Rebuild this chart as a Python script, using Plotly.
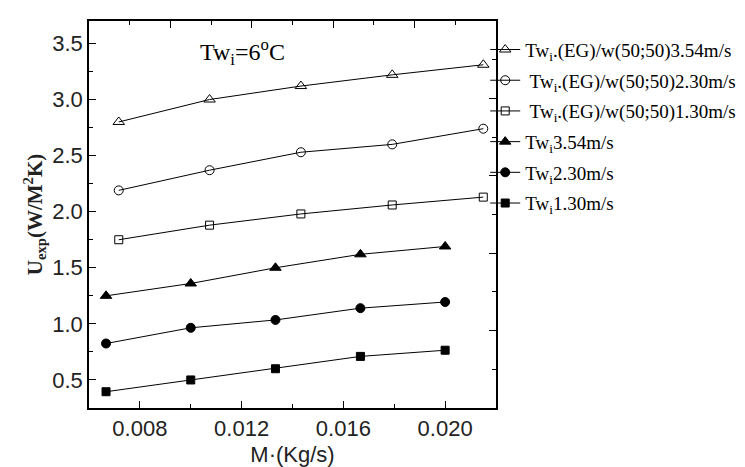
import plotly.graph_objects as go

# Data
x_filled = [0.00667, 0.0100, 0.01333, 0.01667, 0.0200]
x_open = [0.00717, 0.01074, 0.01433, 0.01792, 0.0215]

eg_354 = [2.80, 3.00, 3.12, 3.22, 3.31]
eg_230 = [2.19, 2.37, 2.53, 2.60, 2.74]
eg_130 = [1.75, 1.88, 1.98, 2.06, 2.13]
w_354 = [1.25, 1.36, 1.50, 1.62, 1.69]
w_230 = [0.825, 0.965, 1.035, 1.14, 1.195]
w_130 = [0.395, 0.50, 0.60, 0.71, 0.765]

x_ticks = [0.008, 0.012, 0.016, 0.020]
x_tick_labels = ["0.008", "0.012", "0.016", "0.020"]
y_ticks = [0.5, 1.0, 1.5, 2.0, 2.5, 3.0, 3.5]
y_tick_labels = ["0.5", "1.0", "1.5", "2.0", "2.5", "3.0", "3.5"]
# top/right frame axes: ticks at tenths of the frame
frame_major = [0.0, 0.2, 0.4, 0.6, 0.8, 1.0]

series = [
    ("Tw<sub>i</sub>.(EG)/w(50;50)3.54m/s", x_open, eg_354, "triangle-up-open", 10),
    (" Tw<sub>i</sub>.(EG)/w(50;50)2.30m/s", x_open, eg_230, "circle-open", 9),
    (" Tw<sub>i</sub>.(EG)/w(50;50)1.30m/s", x_open, eg_130, "square-open", 8),
    ("Tw<sub>i</sub>3.54m/s", x_filled, w_354, "triangle-up", 10),
    ("Tw<sub>i</sub>2.30m/s", x_filled, w_230, "circle", 9),
    ("Tw<sub>i</sub>1.30m/s", x_filled, w_130, "square", 8),
]

fig = go.Figure()
for i, (name, xs, ys, sym, sz) in enumerate(series):
    fig.add_trace(go.Scatter(
        x=xs, y=ys, name=name, mode="lines+markers", legendgroup=f"g{i}",
        line=dict(color="black", width=1),
        marker=dict(symbol=sym, size=sz, color="black",
                    line=dict(color="black", width=1)),
    ))

# empty trace so the frame axes are drawn
fig.add_trace(go.Scatter(x=[], y=[], xaxis="x2", yaxis="y2", showlegend=False, hoverinfo="skip"))

axis_common = dict(
    showline=True, linecolor="black", linewidth=1.5,
    ticks="inside", ticklen=7, tickwidth=1.2, tickcolor="black",
    showgrid=False, zeroline=False, automargin=False,
    tickfont=dict(family="Liberation Sans, Arial", size=22, color="#222"),
)

fig.update_layout(
    xaxis=dict(
        range=[0.006, 0.022], tickvals=x_ticks, ticktext=x_tick_labels,
        minor=dict(ticks="inside", ticklen=4, dtick=0.002, tick0=0.006, tickcolor="black"),
        title=dict(text="M·(Kg/s)", font=dict(family="Liberation Sans, Arial", size=22, color="#222"), standoff=6),
        **axis_common,
    ),
    yaxis=dict(
        range=[0.25, 3.7], tickvals=y_ticks, ticktext=y_tick_labels,
        minor=dict(ticks="inside", ticklen=4, dtick=0.25, tick0=0.25, tickcolor="black"),
        title=dict(text="<b>U<sub>exp</sub>(W/M<sup>2</sup>K)</b>", font=dict(family="Liberation Serif, Times New Roman", size=21, color="#222"), standoff=4),
        **axis_common,
    ),
    xaxis2=dict(
        overlaying="x", side="top", range=[0, 1], tickvals=frame_major, showticklabels=False,
        minor=dict(ticks="inside", ticklen=4, dtick=0.1, tick0=0, tickcolor="black"),
        showline=True, linecolor="black", linewidth=1.5, ticks="inside", ticklen=7,
        tickwidth=1.2, tickcolor="black", showgrid=False, zeroline=False, automargin=False,
    ),
    yaxis2=dict(
        overlaying="y", side="right", range=[0, 1], tickvals=frame_major, showticklabels=False,
        minor=dict(ticks="inside", ticklen=4, dtick=0.1, tick0=0, tickcolor="black"),
        showline=True, linecolor="black", linewidth=1.5, ticks="inside", ticklen=7,
        tickwidth=1.2, tickcolor="black", showgrid=False, zeroline=False, automargin=False,
    ),
)

fig.add_annotation(
    x=0.01204, y=3.42, xref="x", yref="y", showarrow=False,
    text="Tw<sub>i</sub>=6<sup>o</sup>C",
    font=dict(family="Liberation Serif, Times New Roman", size=24, color="black"),
)

fig.update_layout(
    width=745, height=467,
    margin=dict(l=81, r=249, t=13, b=67),
    plot_bgcolor="white", paper_bgcolor="white",
    showlegend=True,
    legend=dict(
        x=0.9735, xanchor="left", y=0.975, yanchor="top",
        font=dict(family="Liberation Serif, Times New Roman", size=19, color="black"),
        bgcolor="rgba(0,0,0,0)", borderwidth=0, tracegroupgap=3,
        itemwidth=30,
    ),
)

fig.write_html("out.html")
